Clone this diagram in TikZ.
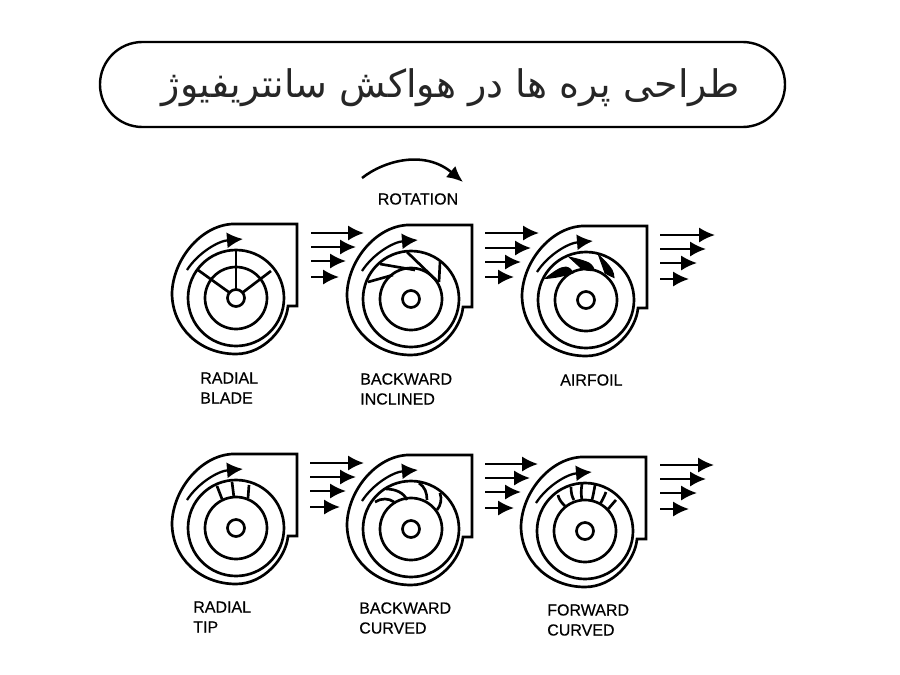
\documentclass[tikz,border=0pt]{standalone}
\usepackage{fontspec}
\setmainfont{Liberation Sans}[FakeBold=0.4]
\newfontfamily\arabicfont[Script=Arabic]{DejaVu Sans}
\TeXXeTstate=1
\usetikzlibrary{arrows.meta}
\tikzset{
  fanline/.style={line width=2pt},
  flow/.style={line width=1.8pt, >={Latex[length=12pt,width=11.5pt]}, ->},
  swirl/.style={line width=1.7pt, >={Latex[length=12pt,width=12pt]}, ->},
  caption/.style={anchor=west, inner sep=0pt, align=left, text=black, font=\fontsize{12}{15}\selectfont},
}
% casing, wheel and hub, drawn about the shaft
\newcommand{\fanbody}{
  \draw[fanline] (-4,-74) -- (61,-74) -- (61,8) -- (52,8)
    .. controls (50,30) and (28,56) .. (0,56)
    .. controls (-36,56) and (-64,30) .. (-64,-5)
    .. controls (-63,-38) and (-36,-72) .. (-4,-74);
  \draw[fanline] (0,0) circle (48);
  \draw[fanline] (0,0) circle (31);
  \draw[fanline] (0,0) circle (8.5);
  \draw[swirl] (-49,-28) .. controls (-38,-45) and (-18,-57) .. (7,-59);
}
\begin{document}
\begin{tikzpicture}[x=0.75pt, y=-0.75pt]
\useasboundingbox (0,0) rectangle (900,675);

% title
\draw[line width=1.8pt, rounded corners=31.8pt] (100,42) rectangle (785,127);
\node (titletext) at (451,88) {\fontsize{28.5}{34}\selectfont\arabicfont\color{black!85}\beginR طراحی پره ها در هواکش سانتریفیوژ\endR};

% rotation
\draw[line width=1.9pt, >={Latex[length=12pt,width=11pt]}, ->] (362,178) .. controls (385,160) and (425,150) .. (463,182);
\node (rotation) [text=black, font=\fontsize{12}{15}\selectfont] at (418,199) {ROTATION};

% radial blade
\begin{scope}[shift={(236,298)}]
\fanbody
\draw[fanline] (0,-8) -- (0,-48);
\draw[fanline] (-6,-5) -- (-38,-28);
\draw[fanline] (6,-5) -- (35,-27);
\end{scope}
\foreach \y/\xend in {233/364,247/356,261/346,277/339}
  \draw[flow] (311,\y) -- (\xend,\y);
\node (radialblade) [caption] at (200,388) {RADIAL\\BLADE};

% backward inclined
\begin{scope}[shift={(411,299)}]
\fanbody
\draw[fanline] (-43,-17) -- (-18,-24);
\draw[fanline] (-31,-35) -- (4,-29);
\draw[fanline] (-4,-47) -- (27,-17);
\draw[fanline] (29,-37) -- (28,-17);
\end{scope}
\foreach \y/\xend in {233/539,248/531,262/521,277/514}
  \draw[flow] (485,\y) -- (\xend,\y);
\node (backinclined) [caption] at (360,389) {BACKWARD\\INCLINED};

% airfoil
\begin{scope}[shift={(586,300)}]
\fanbody
\filldraw[line width=0.7pt] (-41,-21.5) .. controls (-32,-28) and (-26,-33) .. (-20,-33) .. controls (-16,-32) and (-14,-30) .. (-13,-27) .. controls (-22,-24) and (-32,-22) .. cycle;
\filldraw[line width=0.7pt] (-17,-43) .. controls (-8,-41) and (-1,-39) .. (3,-37) .. controls (6,-35) and (8,-32) .. (8.5,-29.5) .. controls (3,-29) and (-2,-30) .. (-5,-32) -- cycle;
\filldraw[line width=0.7pt] (12.5,-45) .. controls (18,-40) and (23,-35) .. (26,-30) .. controls (27,-28) and (28,-25) .. (28,-22.5) .. controls (25,-24) and (22,-25) .. (19,-27) -- cycle;
\end{scope}
\foreach \y/\xend in {235/715,249/706,263/697,279/689}
  \draw[flow] (660,\y) -- (\xend,\y);
\node (airfoil) [caption] at (560,380) {AIRFOIL};

% radial tip
\begin{scope}[shift={(236,528)}]
\fanbody
\draw[fanline] (-19,-42) -- (-14,-29);
\draw[fanline] (-4,-46) -- (-2,-30);
\draw[fanline] (13,-43) -- (12,-30);
\end{scope}
\foreach \y/\xend in {463/364,477/356,491/346,507/340}
  \draw[flow] (310,\y) -- (\xend,\y);
\node (radialtip) [caption] at (193,617) {RADIAL\\TIP};

% backward curved
\begin{scope}[shift={(411,529)}]
\fanbody
\draw[fanline] (-36,-27) .. controls (-30,-31) and (-22,-31) .. (-17,-27);
\draw[fanline] (-25,-40) .. controls (-15,-40) and (-7,-36) .. (-4,-29);
\draw[fanline] (8,-46) .. controls (14,-42) and (16,-36) .. (16,-29);
\draw[fanline] (29,-36) .. controls (31,-30) and (30,-24) .. (26,-19);
\end{scope}
\foreach \y/\xend in {464/538,478/530,492/521,508/514}
  \draw[flow] (485,\y) -- (\xend,\y);
\node (backcurved) [caption] at (359,618) {BACKWARD\\CURVED};

% forward curved
\begin{scope}[shift={(585,531)}]
\fanbody
\draw[fanline] (-27,-36) .. controls (-26,-31) and (-23,-28) .. (-20,-25);
\draw[fanline] (-14,-44) .. controls (-14,-38) and (-13,-34) .. (-11,-31);
\draw[fanline] (-3,-47) .. controls (-4,-41) and (-4,-36) .. (-3,-31);
\draw[fanline] (10,-46) .. controls (9,-40) and (8,-35) .. (7,-31);
\draw[fanline] (21,-39) .. controls (19,-34) and (17,-30) .. (15,-27);
\draw[fanline] (31,-31) .. controls (28,-28) and (26,-25) .. (23,-22);
\end{scope}
\foreach \y/\xend in {465/714,479/706,493/697,509/689}
  \draw[flow] (660,\y) -- (\xend,\y);
\node (forwardcurved) [caption] at (547,620) {FORWARD\\CURVED};

\end{tikzpicture}
\end{document}
